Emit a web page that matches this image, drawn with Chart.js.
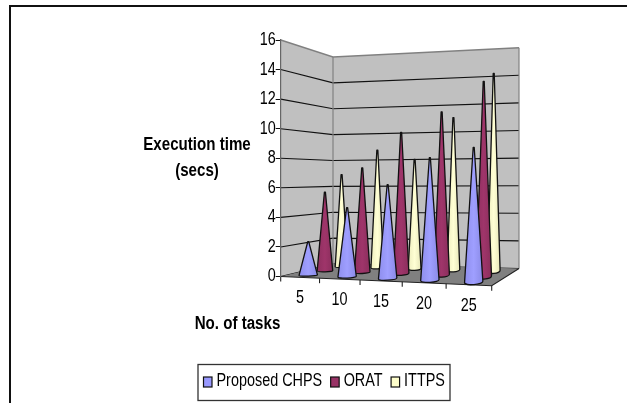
<!DOCTYPE html>
<html><head><meta charset="utf-8">
<style>html,body{margin:0;padding:0;background:#fff}canvas{display:block}</style>
<script src="https://cdn.jsdelivr.net/npm/chart.js@4"></script>
</head><body><canvas id="c" width="627" height="403"></canvas>
<script>
const categories = ['5','10','15','20','25'];
const seriesNames = ['Proposed CHPS','ORAT','ITTPS'];
const proposedChps = [2.3,4.7,6.3,8.15,8.85];
const orat = [5.65,7.4,9.9,11.3,13.35];
const ittps = [6.9,8.7,8.0,11,14.1];
const seriesColors = ['#9999ff','#993366','#ffffcc'];
const yTitle = ['Execution time','(secs)'];
const xTitle = 'No. of tasks';
const FONT = '"Liberation Sans",Arial,sans-serif';
const NARROW = .8;

// oblique projection of (category fraction, depth fraction, value)
const view = {backDx:52.3, backDy:-12.5, rightBackDx:238.3, rightBackDy:-8, rightFrontDy:9.2,
              unitBL:12.94, unitBR:13.8, unitFR:15.6};
function warp(c){return .9*c+.1*c*c;}
function project(chart,c,d,v){
  const a=chart.chartArea, k=warp(c), U=(a.bottom-a.top)/16;
  const lerp=(p,q,t)=>p+(q-p)*t;
  const fx=lerp(a.left,a.right,k), fy=lerp(a.bottom,a.bottom+view.rightFrontDy,k);
  const bx=lerp(a.left+view.backDx,a.left+view.rightBackDx,k), by=lerp(a.bottom+view.backDy,a.bottom+view.rightBackDy,k);
  const fu=lerp(U,view.unitFR,k), bu=lerp(view.unitBL,view.unitBR,k);
  return {x:lerp(fx,bx,d), y:lerp(fy,by,d)-v*lerp(fu,bu,d)};
}
function shade(hex,f){
  const n=parseInt(hex.slice(1),16),ch=[n>>16,(n>>8)&255,n&255].map(x=>Math.min(255,Math.round(x*f)));
  return `rgb(${ch.join(',')})`;
}
function narrowText(ctx,s,x,y,k){
  ctx.save();ctx.translate(x,y);ctx.scale(k||NARROW,1);ctx.fillText(s,0,0);ctx.restore();
}
class ConeController extends Chart.BarController{
  draw(){
    const chart=this.chart,ctx=chart.ctx,meta=this._cachedMeta,ds=this.getDataset();
    const y=meta.vScale,x=meta.iScale,a=chart.chartArea;
    const d=(this.index+.5)/3;
    meta.data.forEach((el,i)=>{
      const c=(x.getPixelForValue(i)-a.left)/a.width, v=y.getValueForPixel(el.y);
      const b=project(chart,c,d,0), t=project(chart,c,d,v);
      const r=9.9-4.2*d, ry=.7+2.2*c, tilt=-.07*c-.02;
      const g=ctx.createLinearGradient(b.x-r,0,b.x+r,0), col=ds.backgroundColor;
      g.addColorStop(0,shade(col,.93));g.addColorStop(.5,shade(col,1.04));g.addColorStop(1,shade(col,.9));
      ctx.save();
      ctx.beginPath();
      ctx.moveTo(t.x-.5,t.y);ctx.lineTo(t.x+.5,t.y);
      ctx.ellipse(b.x,b.y,r,ry,tilt,0,Math.PI,false);
      ctx.closePath();
      ctx.fillStyle=g;ctx.fill();
      ctx.strokeStyle='#111';ctx.lineWidth=1.3;ctx.lineJoin='round';ctx.stroke();
      ctx.restore();
    });
  }
}
ConeController.id='cone';
ConeController.defaults=Chart.BarController.defaults;
ConeController.overrides=Chart.BarController.overrides;
Chart.register(ConeController);

const stage={id:'stage',
  beforeDraw(chart){
    const ctx=chart.ctx,ys=chart.scales.y;
    ctx.save();
    ctx.fillStyle='#fff';ctx.fillRect(0,0,627,403);
    // frame
    ctx.strokeStyle='#111';ctx.lineWidth=2;
    ctx.beginPath();ctx.moveTo(10,403);ctx.lineTo(10,6);ctx.lineTo(627,6);ctx.stroke();
    // walls
    const P=(c,d,v)=>project(chart,c,d,v);
    const poly=(pts,fill)=>{ctx.beginPath();pts.forEach((p,i)=>i?ctx.lineTo(p.x,p.y):ctx.moveTo(p.x,p.y));ctx.closePath();ctx.fillStyle=fill;ctx.fill();};
    poly([P(0,0,0),P(0,1,0),P(0,1,16),P(0,0,16)],'#c0c0c0');
    poly([P(0,1,0),P(1,1,0),P(1,1,16),P(0,1,16)],'#c0c0c0');
    // gridlines
    ys.ticks.forEach(tk=>{
      const v=tk.value;
      ctx.beginPath();
      const A=P(0,0,v),B=P(0,1,v),C=P(1,1,v);
      ctx.moveTo(A.x,A.y);ctx.lineTo(B.x,B.y);ctx.lineTo(C.x,C.y);
      ctx.strokeStyle=v===16?'#808080':'#111';ctx.lineWidth=v===16?1.4:1.1;ctx.stroke();
    });
    // wall edges
    ctx.strokeStyle='#808080';ctx.lineWidth=1.2;
    let e=[P(0,1,0),P(0,1,16)];ctx.beginPath();ctx.moveTo(e[0].x,e[0].y);ctx.lineTo(e[1].x,e[1].y);ctx.stroke();
    e=[P(1,1,0),P(1,1,16)];ctx.beginPath();ctx.moveTo(e[0].x,e[0].y);ctx.lineTo(e[1].x,e[1].y);ctx.stroke();
    // floor
    poly([P(0,0,0),P(1,0,0),P(1,1,0),P(0,1,0)],'#808080');
    ctx.strokeStyle='#222';ctx.lineWidth=1.1;
    const f0=P(0,0,0),f1=P(1,0,0),f2=P(1,1,0);
    ctx.beginPath();ctx.moveTo(f0.x,f0.y);ctx.lineTo(f1.x,f1.y);ctx.lineTo(f2.x,f2.y);ctx.stroke();
    // category ticks and labels
    for(let i=0;i<=categories.length;i++){
      const p=P(i/categories.length,0,0);
      ctx.beginPath();ctx.moveTo(p.x,p.y);ctx.lineTo(p.x,p.y+5);ctx.stroke();
    }
    ctx.fillStyle='#000';ctx.font='18px '+FONT;ctx.textAlign='center';ctx.textBaseline='middle';
    const xs=chart.scales.x,a=chart.chartArea;
    categories.forEach((lab,i)=>{
      const p=P((xs.getPixelForValue(i)-a.left)/a.width,0,0);
      narrowText(ctx,lab,p.x,p.y+21);
    });
    // value labels
    ctx.textAlign='right';
    ys.ticks.forEach(tk=>narrowText(ctx,tk.label,a.left-5,ys.getPixelForValue(tk.value)));
    // titles
    ctx.textAlign='center';
    ctx.font='bold 18px '+FONT;
    narrowText(ctx,yTitle[0],197,145,.84);narrowText(ctx,yTitle[1],197,171,.84);
    narrowText(ctx,xTitle,237.5,324,.84);
    // legend
    ctx.strokeStyle='#333';ctx.lineWidth=1.3;ctx.strokeRect(198,364.5,252,36);
    ctx.font='18px '+FONT;ctx.textAlign='left';
    let lx=203.5;
    seriesNames.forEach((nm,i)=>{
      ctx.fillStyle=seriesColors[i];ctx.fillRect(lx,377,8.5,10);
      ctx.strokeStyle='#111';ctx.lineWidth=1.2;ctx.strokeRect(lx,377,8.5,10);
      ctx.fillStyle='#000';narrowText(ctx,nm,lx+13,381);
      lx+=13+ctx.measureText(nm).width*NARROW+8.5;
    });
    ctx.restore();
  }
};

new Chart(document.getElementById('c'),{
  type:'cone',
  data:{labels:categories,datasets:[
    {label:seriesNames[0],data:proposedChps,backgroundColor:seriesColors[0],clip:false},
    {label:seriesNames[1],data:orat,backgroundColor:seriesColors[1],clip:false},
    {label:seriesNames[2],data:ittps,backgroundColor:seriesColors[2],clip:false}
  ]},
  options:{
    responsive:false,animation:false,
    layout:{padding:{left:240.7,right:135.3,top:40,bottom:126.5}},
    plugins:{legend:{display:false},tooltip:{enabled:false}},
    scales:{
      x:{display:false,type:'category',offset:true},
      y:{min:0,max:16,
        afterFit(s){s.width=40;},
        border:{color:'#666',width:1.2},
        grid:{drawOnChartArea:false,tickLength:5,color:'#111',tickWidth:1},
        ticks:{stepSize:2,display:false}
      }
    }
  },
  plugins:[stage]
});
</script></body></html>
